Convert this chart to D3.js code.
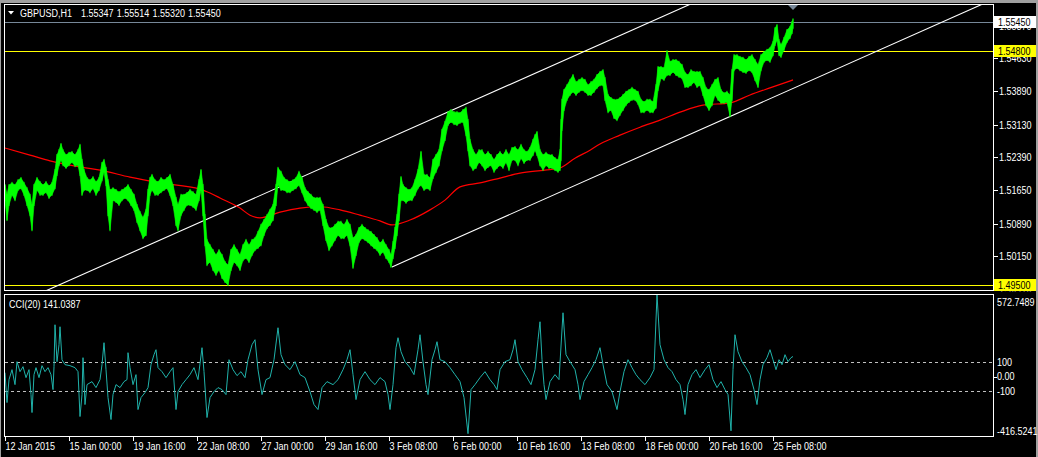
<!DOCTYPE html>
<html><head><meta charset="utf-8">
<script src="https://cdn.jsdelivr.net/npm/d3@7"></script>
<style>
html,body{margin:0;padding:0;background:#000;overflow:hidden;}
text{font-family:"Liberation Sans",Arial,sans-serif;font-size:11px;}
</style></head>
<body><svg id="c" width="1038" height="457"></svg>
<script>
// ---------- DATA ----------
const symbolName = "GBPUSD,H1";
const symbolQuotes = ["1.55347","1.55514","1.55320","1.55450"];
const cciTitle = "CCI(20) 141.0387";
const timeLabels = ["12 Jan 2015","15 Jan 00:00","19 Jan 16:00","22 Jan 08:00","27 Jan 00:00","29 Jan 16:00","3 Feb 08:00","6 Feb 00:00","10 Feb 16:00","13 Feb 08:00","18 Feb 00:00","20 Feb 16:00","25 Feb 08:00"];
const timeLabelBars = [0,64,128,192,256,320,384,448,512,576,640,704,768];
const priceTicks = [1.55370,1.54630,1.53890,1.53130,1.52390,1.51650,1.50890,1.50150,1.49410];
const bidPrice = 1.55450;
const levelLines = [1.54800,1.49500];
const cciLevels = [100,-100];
const cciAxisLabels = [572.7489,100,0,-100,-416.5241];

const priceBar = [
0,2,4,7,10,13,16,19,22,25,
27,29,32,35,38,41,44,47,50,52,
54,56,58,61,64,67,70,73,75,77,
79,82,85,88,91,94,97,99,101,103,
105,108,111,114,117,120,123,126,129,132,
135,138,141,143,145,147,150,153,156,159,
162,165,168,171,173,176,179,182,185,188,
191,194,196,198,200,202,205,208,211,214,
217,220,223,226,229,232,235,238,241,244,
247,250,253,256,259,262,265,268,271,273,
276,279,282,285,288,291,294,297,300,303,
306,309,312,315,318,321,324,327,330,333,
336,339,342,345,348,351,354,357,360,363,
366,369,372,375,378,381,384,386,388,390,
392,394,396,398,401,404,407,410,413,416,
419,422,425,428,431,434,437,440,443,446,
449,452,455,458,461,463,465,468,471,474,
477,480,483,486,489,492,495,498,501,504,
507,510,513,516,519,522,525,528,530,532,
535,538,541,544,547,550,553,555,556,557,
559,562,565,568,571,574,577,580,583,586,
589,592,595,598,600,603,606,609,612,615,
618,621,624,627,630,633,636,639,642,645,
648,651,653,656,659,662,665,668,671,674,
677,680,683,686,689,692,695,698,701,704,
707,710,713,716,719,722,725,727,729,732,
735,738,741,744,747,750,753,756,759,762,
765,768,770,772,774,776,779,782,785,787,
788];
const priceHigh = [
1.5176,1.5154,1.5176,1.5181,1.5176,1.5187,1.5192,1.5181,1.5169,1.5154,
1.5131,1.5176,1.5192,1.5183,1.5176,1.5183,1.5174,1.5181,1.5210,1.5244,
1.5255,1.5269,1.5255,1.5244,1.5249,1.5251,1.5244,1.5255,1.5267,1.5233,
1.5210,1.5192,1.5187,1.5194,1.5183,1.5192,1.5226,1.5233,1.5215,1.5187,
1.5165,1.5169,1.5165,1.5160,1.5165,1.5169,1.5176,1.5165,1.5154,1.5131,
1.5115,1.5102,1.5120,1.5165,1.5192,1.5199,1.5187,1.5183,1.5192,1.5187,
1.5192,1.5199,1.5176,1.5147,1.5131,1.5154,1.5154,1.5158,1.5165,1.5160,
1.5154,1.5187,1.5210,1.5176,1.5108,1.5052,1.5040,1.5029,1.5018,1.5029,
1.5018,1.5002,1.4995,1.5029,1.5040,1.5029,1.5018,1.5040,1.5052,1.5040,
1.5052,1.5056,1.5070,1.5086,1.5097,1.5108,1.5120,1.5131,1.5176,1.5215,
1.5206,1.5192,1.5187,1.5183,1.5187,1.5192,1.5206,1.5192,1.5169,1.5160,
1.5154,1.5147,1.5147,1.5147,1.5131,1.5097,1.5079,1.5079,1.5086,1.5093,
1.5093,1.5086,1.5097,1.5086,1.5056,1.5063,1.5079,1.5086,1.5079,1.5074,
1.5070,1.5063,1.5056,1.5045,1.5052,1.5040,1.5029,1.5018,1.5047,1.5079,
1.5108,1.5154,1.5194,1.5176,1.5169,1.5165,1.5169,1.5187,1.5210,1.5251,
1.5199,1.5199,1.5192,1.5233,1.5244,1.5255,1.5301,1.5319,1.5341,1.5346,
1.5341,1.5341,1.5339,1.5346,1.5351,1.5323,1.5278,1.5255,1.5244,1.5255,
1.5255,1.5244,1.5251,1.5244,1.5233,1.5244,1.5251,1.5244,1.5255,1.5244,
1.5260,1.5262,1.5255,1.5267,1.5255,1.5251,1.5260,1.5278,1.5289,1.5296,
1.5255,1.5244,1.5249,1.5244,1.5244,1.5237,1.5233,1.5255,1.5323,1.5369,
1.5391,1.5402,1.5414,1.5425,1.5409,1.5414,1.5418,1.5414,1.5402,1.5409,
1.5414,1.5425,1.5432,1.5436,1.5418,1.5380,1.5373,1.5369,1.5369,1.5373,
1.5380,1.5387,1.5391,1.5396,1.5391,1.5387,1.5369,1.5364,1.5369,1.5369,
1.5364,1.5402,1.5443,1.5443,1.5441,1.5479,1.5455,1.5459,1.5459,1.5455,
1.5448,1.5430,1.5425,1.5436,1.5432,1.5432,1.5432,1.5418,1.5396,1.5391,
1.5402,1.5414,1.5418,1.5391,1.5384,1.5387,1.5380,1.5436,1.5470,1.5470,
1.5466,1.5464,1.5459,1.5466,1.5470,1.5459,1.5448,1.5470,1.5477,1.5482,
1.5486,1.5500,1.5531,1.5538,1.5504,1.5493,1.5509,1.5527,1.5534,1.5545,
1.5551];
const priceLow = [
1.5142,1.5097,1.5131,1.5154,1.5142,1.5165,1.5169,1.5154,1.5131,1.5108,
1.5074,1.5131,1.5165,1.5154,1.5154,1.5160,1.5147,1.5154,1.5169,1.5199,
1.5221,1.5233,1.5221,1.5215,1.5221,1.5228,1.5219,1.5221,1.5199,1.5154,
1.5165,1.5165,1.5160,1.5169,1.5154,1.5165,1.5187,1.5206,1.5176,1.5108,
1.5074,1.5142,1.5138,1.5131,1.5142,1.5147,1.5142,1.5131,1.5120,1.5093,
1.5074,1.5056,1.5063,1.5108,1.5154,1.5165,1.5154,1.5154,1.5160,1.5165,
1.5169,1.5154,1.5131,1.5086,1.5074,1.5108,1.5120,1.5131,1.5131,1.5127,
1.5120,1.5142,1.5165,1.5108,1.5040,1.4995,1.5002,1.4984,1.4973,1.4984,
1.4966,1.4957,1.4950,1.4984,1.5002,1.4995,1.4984,1.5006,1.5011,1.5002,
1.5018,1.5029,1.5034,1.5040,1.5063,1.5079,1.5086,1.5097,1.5131,1.5176,
1.5165,1.5165,1.5160,1.5160,1.5165,1.5169,1.5176,1.5160,1.5142,1.5131,
1.5124,1.5120,1.5115,1.5120,1.5086,1.5052,1.5029,1.5040,1.5052,1.5063,
1.5056,1.5056,1.5063,1.5040,1.4989,1.5018,1.5047,1.5056,1.5052,1.5047,
1.5040,1.5034,1.5029,1.5018,1.5025,1.5011,1.5002,1.4991,1.5011,1.5034,
1.5063,1.5097,1.5142,1.5142,1.5136,1.5142,1.5142,1.5154,1.5169,1.5176,
1.5165,1.5169,1.5165,1.5192,1.5206,1.5221,1.5255,1.5278,1.5312,1.5319,
1.5314,1.5312,1.5317,1.5319,1.5289,1.5255,1.5221,1.5210,1.5215,1.5228,
1.5221,1.5210,1.5217,1.5221,1.5206,1.5215,1.5221,1.5215,1.5228,1.5210,
1.5233,1.5233,1.5221,1.5237,1.5226,1.5233,1.5233,1.5244,1.5255,1.5244,
1.5221,1.5210,1.5221,1.5215,1.5215,1.5210,1.5206,1.5210,1.5233,1.5301,
1.5346,1.5369,1.5380,1.5387,1.5380,1.5387,1.5391,1.5387,1.5380,1.5380,
1.5387,1.5396,1.5402,1.5402,1.5369,1.5341,1.5346,1.5328,1.5323,1.5335,
1.5346,1.5357,1.5364,1.5369,1.5369,1.5360,1.5341,1.5341,1.5346,1.5341,
1.5341,1.5351,1.5391,1.5418,1.5414,1.5425,1.5425,1.5432,1.5425,1.5421,
1.5418,1.5398,1.5398,1.5402,1.5409,1.5398,1.5402,1.5380,1.5357,1.5346,
1.5357,1.5380,1.5369,1.5362,1.5362,1.5364,1.5332,1.5369,1.5436,1.5441,
1.5436,1.5432,1.5430,1.5436,1.5432,1.5414,1.5398,1.5436,1.5455,1.5459,
1.5455,1.5470,1.5493,1.5504,1.5470,1.5466,1.5482,1.5500,1.5509,1.5520,
1.5532];

const maBar = [0,25,45,75,95,125,155,195,205,215,235,245,255,275,295,315,335,355,375,387,405,425,440,455,475,495,515,540,555,570,585,595,615,635,655,675,698,725,745,765,788];
const maValue = [1.5260,1.5244,1.5231,1.5217,1.5210,1.5194,1.5181,1.5167,1.5158,1.5147,1.5124,1.5108,1.5102,1.5115,1.5124,1.5127,1.5120,1.5108,1.5095,1.5086,1.5097,1.5120,1.5142,1.5172,1.5181,1.5192,1.5203,1.5210,1.5215,1.5237,1.5255,1.5269,1.5289,1.5307,1.5323,1.5341,1.5357,1.5362,1.5380,1.5396,1.5414];

const channelUpperBar = [42,683];
const channelUpperPrice = [1.4938,1.5583];
const channelLowerBar = [387,975];
const channelLowerPrice = [1.4991,1.5583];

const cciBar = [
0,2,4,7,10,12,15,18,21,24,
26,27,29,31,34,37,40,43,46,48,
49,50,52,54,55,57,60,65,70,73,
75,77,78,80,82,87,91,95,97,99,
101,103,106,108,111,115,119,122,123,125,
128,131,133,136,140,143,146,149,151,153,
157,161,165,168,171,173,177,181,185,189,
193,197,199,202,205,209,213,217,221,224,
228,232,236,240,243,247,250,253,257,261,
265,269,273,276,280,285,290,295,300,305,
309,313,317,322,328,333,338,342,345,348,
351,355,360,365,370,375,380,383,385,388,
391,393,396,400,405,409,413,415,418,421,
423,427,430,432,435,440,445,450,455,459,
463,466,470,475,480,485,489,492,495,500,
505,508,510,513,517,522,526,530,533,535,
537,539,541,545,550,554,558,561,565,570,
573,575,579,583,587,591,595,598,602,607,
612,615,619,623,627,631,635,640,645,649,
652,655,659,663,667,671,675,678,680,683,
687,691,695,700,704,708,712,716,720,723,
726,728,730,733,737,741,745,749,752,755,
758,762,765,768,771,774,777,780,783,786,
788];
const cciValue = [
28,-182,-21,49,-56,105,35,70,-7,49,
-126,-252,14,63,-7,77,35,63,14,-91,
70,364,105,224,350,119,84,77,63,35,
-280,-126,133,-196,-56,-35,-77,-21,84,238,
49,-147,-301,-126,-56,-77,-35,-21,168,63,
-56,14,-231,-147,-112,-77,84,154,189,63,
35,-7,35,63,-231,-105,-56,-21,14,63,
-21,203,35,-287,-147,-105,-77,-91,-126,119,
49,7,35,-7,119,224,259,49,-126,-21,
-7,119,343,154,84,49,105,14,-7,-105,
-196,-231,-77,-35,-56,-21,49,119,189,14,
-161,-21,35,-21,-56,-7,-35,-126,-231,-56,
203,273,175,105,63,14,189,294,105,-56,
-126,119,189,245,119,105,63,14,-35,-147,
-400,-91,-56,-7,35,-21,-56,-91,49,105,
119,189,259,105,49,-7,-56,49,259,385,
119,-56,-161,-35,14,-21,448,154,105,49,
-56,-161,-35,14,63,119,203,84,-56,-105,
-231,-105,35,119,63,14,-21,-56,-7,49,
572.7,224,119,63,35,-21,-56,-161,-266,-56,
14,49,-7,49,84,-21,-77,-35,-91,-126,
-380,49,294,175,105,63,14,-91,-196,-21,
84,133,189,119,49,119,84,154,105,133,
141.04];

// ---------- LAYOUT ----------
const W = 1038, H = 457;
const L = 4.5, R = 993.5;
const mainTop = 4.5, mainBot = 290.5;
const cciTop = 294.5, cciBot = 436.5;
const SX = 0.82; // horizontal squeeze to mimic the narrow terminal font

const svg = d3.select("#c");
svg.append("rect").attr("width",W).attr("height",H).attr("fill","#000");
svg.append("rect").attr("x",0).attr("y",0).attr("width",W).attr("height",3).attr("fill","#a0a0a0");
svg.append("rect").attr("x",0).attr("y",0).attr("width",1).attr("height",H).attr("fill","#a0a0a0");
svg.append("rect").attr("x",W-2).attr("y",0).attr("width",2).attr("height",H).attr("fill","#a0a0a0");

function T(parent, tx, ty, s, fill){
  return parent.append("text")
    .attr("transform",`translate(${tx},${ty}) scale(${SX},1)`)
    .attr("dy","0.35em").attr("fill",fill||"#ffffff").text(s);
}

const x = d3.scaleLinear().domain([0,988]).range([5,993]);
const y = d3.scaleLinear().domain([1.49387,1.55835]).range([290,5]);
const yc = d3.scaleLinear().domain([-416.5241,572.7489]).range([436,295]);

const defs = svg.append("defs");
defs.append("clipPath").attr("id","mainClip").append("rect")
  .attr("x",L).attr("y",mainTop).attr("width",R-L).attr("height",mainBot-mainTop);
defs.append("clipPath").attr("id","cciClip").append("rect")
  .attr("x",L).attr("y",cciTop).attr("width",R-L).attr("height",cciBot-cciTop);
defs.append("clipPath").attr("id","axisClip").append("rect")
  .attr("x",R).attr("y",mainTop).attr("width",W-R-2).attr("height",mainBot-mainTop+1);

// ---------- MAIN PANEL ----------
const gm = svg.append("g").attr("clip-path","url(#mainClip)");
const hline = (p,color) => gm.append("line").attr("x1",L).attr("x2",R)
  .attr("y1",Math.round(y(p))+0.5).attr("y2",Math.round(y(p))+0.5)
  .attr("stroke",color).attr("stroke-width",1).attr("shape-rendering","crispEdges");
levelLines.forEach(p=>hline(p,"#ffff00"));
hline(bidPrice,"#778899");

function lineThrough(bars, prices, fromBar, toBar){
  const slope = (prices[1]-prices[0])/(bars[1]-bars[0]);
  const f = b => prices[0] + slope*(b-bars[0]);
  return [[x(fromBar),y(f(fromBar))],[x(toBar),y(f(toBar))]];
}
const up = lineThrough(channelUpperBar, channelUpperPrice, 0, 988);
const lo = lineThrough(channelLowerBar, channelLowerPrice, channelLowerBar[0], 988);
[up,lo].forEach(s=>gm.append("line").attr("x1",s[0][0]).attr("y1",s[0][1]).attr("x2",s[1][0]).attr("y2",s[1][1])
  .attr("stroke","#ffffff").attr("stroke-width",1.1));

const maData = maBar.map((b,i)=>({b,v:maValue[i]}));
gm.append("path").datum(maData)
  .attr("d",d3.line().x(d=>x(d.b)).y(d=>y(d.v)).curve(d3.curveMonotoneX))
  .attr("fill","none").attr("stroke","#ff0000").attr("stroke-width",1.2);

const pData = priceBar.map((b,i)=>({b,h:priceHigh[i],l:priceLow[i]}));
gm.append("path").datum(pData)
  .attr("d",d3.area().x(d=>x(d.b)).y0(d=>y(d.l)).y1(d=>y(d.h)))
  .attr("fill","#00ff00").attr("stroke","#00ff00").attr("stroke-width",0.6);
// individual bar ranges for a jagged look
gm.selectAll("line.bar").data(pData).enter().append("line").attr("class","bar")
  .attr("x1",d=>x(d.b)).attr("x2",d=>x(d.b)).attr("y1",d=>y(d.h)-1).attr("y2",d=>y(d.l)+1)
  .attr("stroke","#00ff00").attr("stroke-width",1);

svg.append("rect").attr("x",L).attr("y",mainTop).attr("width",R-L).attr("height",mainBot-mainTop)
  .attr("fill","none").attr("stroke","#ffffff").attr("shape-rendering","crispEdges");

// right price axis
const ga = svg.append("g").attr("clip-path","url(#axisClip)");
priceTicks.forEach(p=>{
  const yy = Math.round(y(p))+0.5;
  ga.append("line").attr("x1",R).attr("x2",R+4).attr("y1",yy).attr("y2",yy)
    .attr("stroke","#ffffff").attr("shape-rendering","crispEdges");
  T(ga, 999, yy, p.toFixed(5));
});
function priceBox(p,bg){
  const yy = Math.round(y(p));
  ga.append("rect").attr("x",994).attr("y",yy-6).attr("width",42).attr("height",12).attr("fill",bg);
  T(ga, 998, yy, p.toFixed(5), "#000");
}
priceBox(bidPrice,"#ffffff");
levelLines.forEach(p=>priceBox(p,"#ffff00"));

const tx = x(788);
svg.append("path").attr("d",d3.line()([[tx-5,5],[tx+5,5],[tx,10]])+"Z").attr("fill","#778899");

// header
svg.append("path").attr("d",d3.line()([[8,11],[14,11],[11,14.5]])+"Z").attr("fill","#ffffff");
T(svg, 20, 13, symbolName);
symbolQuotes.forEach((q,i)=>T(svg, 81 + i*35.7, 13, q));

// ---------- CCI PANEL ----------
const gc = svg.append("g").attr("clip-path","url(#cciClip)");
cciLevels.forEach(v=>{
  const yy = Math.round(yc(v))+0.5;
  gc.append("line").attr("x1",L).attr("x2",R).attr("y1",yy).attr("y2",yy)
    .attr("stroke","#c0c0c0").attr("stroke-dasharray","3,3").attr("shape-rendering","crispEdges");
});
const cData = cciBar.map((b,i)=>({b,v:cciValue[i]}));
gc.append("path").datum(cData)
  .attr("d",d3.line().x(d=>x(d.b)).y(d=>yc(d.v)))
  .attr("fill","none").attr("stroke","#20b2aa").attr("stroke-width",1);

svg.append("rect").attr("x",L).attr("y",cciTop).attr("width",R-L).attr("height",cciBot-cciTop)
  .attr("fill","none").attr("stroke","#ffffff").attr("shape-rendering","crispEdges");
T(svg, 9, 304, cciTitle);

cciAxisLabels.forEach((v,i)=>{
  let yy = yc(v);
  if (i === 0) yy += 7;
  if (i === cciAxisLabels.length-1) yy -= 5;
  const txt = (v===100||v===-100) ? String(v) : (v===0 ? "0.00" : v.toFixed(4));
  if (v===0) svg.append("line").attr("x1",R).attr("x2",R+3).attr("y1",Math.round(yc(v))+0.5).attr("y2",Math.round(yc(v))+0.5)
    .attr("stroke","#fff").attr("shape-rendering","crispEdges");
  T(svg, 997, yy, txt);
});

// ---------- TIME AXIS ----------
timeLabels.forEach((t,i)=>{
  const xx = Math.round(x(timeLabelBars[i]))+0.5;
  svg.append("line").attr("x1",xx).attr("x2",xx).attr("y1",cciBot).attr("y2",cciBot+4)
    .attr("stroke","#ffffff").attr("shape-rendering","crispEdges");
  T(svg, xx, 446, t);
});
</script></body></html>
